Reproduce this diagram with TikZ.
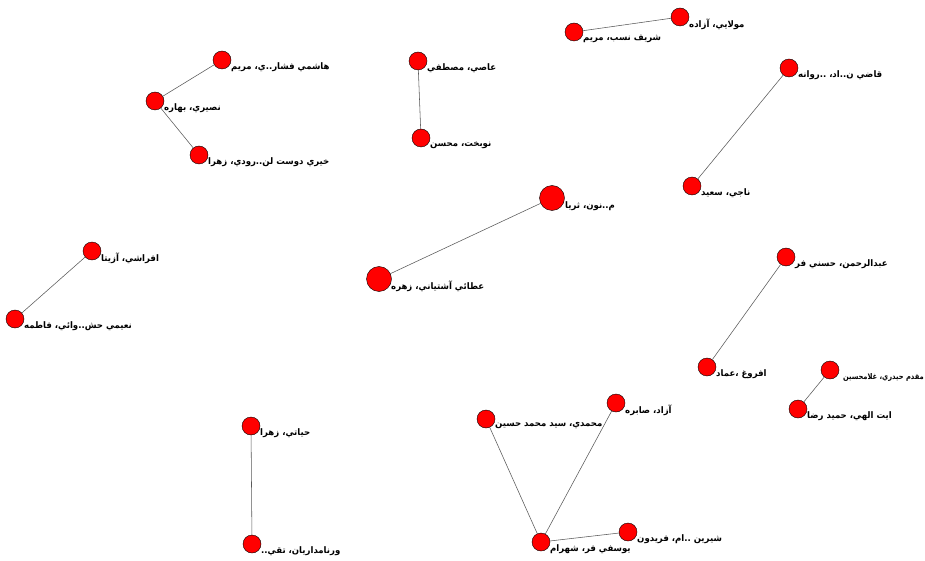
\documentclass[tikz,border=0pt]{standalone}
\usepackage{fontspec}
\newfontfamily\arabicfont[Script=Arabic,FakeStretch=0.95]{DejaVu Sans}
\newfontfamily\arabicnarrow[Script=Arabic,FakeStretch=0.85]{DejaVu Sans}
\TeXXeTstate=1
\usetikzlibrary{positioning}
\newcommand{\fa}[1]{\beginR #1\endR}
\tikzset{
  person/.style={circle,fill=red,draw=black,line width=0.4pt,inner sep=0pt,minimum size=18pt},
  bigperson/.style={person,minimum size=25pt},
  tie/.style={draw=black!65,line width=0.55pt},
  namelabel/.style={font=\arabicfont\bfseries\fontsize{9}{10}\selectfont,inner sep=0pt,anchor=west}
}
\begin{document}
\begin{tikzpicture}[x=1pt,y=-1pt]
            \useasboundingbox[fill=white] (0,0) rectangle (925,561);
            % small nodes
            \foreach \id/\x/\y/\txt in {
                hashemi/222/60/{\fa{هاشمي فشار..ي، مريم}},
                nasiri/155/101/{\fa{نصيري، بهاره}},
                kheiri/199/155/{\fa{خيري دوست لن..رودي، زهرا}},
                asi/418/61/{\fa{عاصي، مصطفي}},
                nobakht/421/138/{\fa{نوبخت، محسن}},
                molaei/680/17/{\fa{مولايي، آزاده}},
                sharif/574/32/{\fa{شريف نسب، مريم}},
                ghazi/789/68/{\fa{قاضي ن..اد، ..روانه}},
                naji/692/186/{\fa{ناجي، سعيد}},
                afrashi/92/251/{\fa{افراشي، آزيتا}},
                naimi/15/319/{\fa{نعيمي حش..وائي، فاطمه}},
                abdolrahman/786/257/{\fa{عبدالرحمن، حسني فر}},
                afrough/707/367/{\fa{افروغ ،عماد}},
                ayat/798/409/{\fa{ايت الهي، حميد رضا}},
                hayati/251/426/{\fa{حياتي، زهرا}},
                pournamdar/252/544/{..\fa{ورنامداريان، تقي}},
                mohammadi/486/419/{\fa{محمدي، سيد محمد حسين}},
                azad/616/403/{\fa{آزاد، صابره}},
                shirin/628/532/{\fa{شيرين ..ام، فريدون}},
                yousefi/541/542/{\fa{يوسفي فر، شهرام}}}
                {
                    \node[person] (\id) at (\x,\y) {};
                    \node[namelabel] (\id-name) at ([xshift=9pt,yshift=-7pt]\id.center) {\txt};
                }
            % near the right edge
            \node[person] (moghadam) at (830,370) {};
            \node[namelabel,anchor=east,font=\arabicnarrow\bfseries\fontsize{7.9}{9}\selectfont] (moghadam-name) at (924,377) {\fa{مقدم حيدري، غلامحسين}};
            % big nodes
            \node[bigperson] (momenun) at (552,198) {};
            \node[namelabel] (momenun-name) at ([xshift=13pt,yshift=-8pt]momenun.center) {\fa{م..نون، ثريا}};
            \node[bigperson] (atai) at (379,279) {};
            \node[namelabel] (atai-name) at ([xshift=12pt,yshift=-7pt]atai.center) {\fa{عطائي آشتياني، زهره}};

            \foreach \a/\b in {hashemi/nasiri,nasiri/kheiri,asi/nobakht,molaei/sharif,ghazi/naji,
                momenun/atai,afrashi/naimi,abdolrahman/afrough,moghadam/ayat,hayati/pournamdar,
                mohammadi/yousefi,azad/yousefi,shirin/yousefi}
                \draw[tie] (\a) -- (\b);
        \end{tikzpicture}
\end{document}
